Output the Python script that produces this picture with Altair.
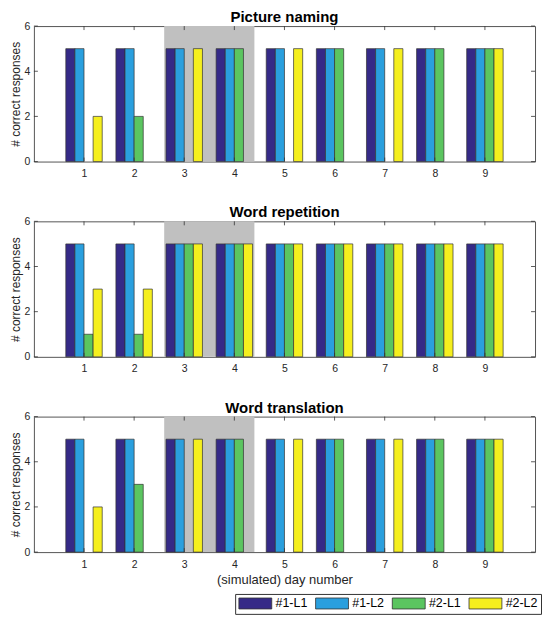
import altair as alt
import pandas as pd

# ---------------- data ----------------
days = [1, 2, 3, 4, 5, 6, 7, 8, 9]
series = ["#1-L1", "#1-L2", "#2-L1", "#2-L2"]
colors = ["#352a87", "#2a9fde", "#5bc560", "#f5ef1e"]
y_ticks = [0, 2, 4, 6]
shade_range = [2.6, 4.4]  # shaded days (3-4)

# Picture naming
pn_1L1 = [5, 5, 5, 5, 5, 5, 5, 5, 5]
pn_1L2 = [5, 5, 5, 5, 5, 5, 5, 5, 5]
pn_2L1 = [0, 2, 0, 5, 0, 5, 0, 5, 5]
pn_2L2 = [2, 0, 5, 0, 5, 0, 5, 0, 5]

# Word repetition
wr_1L1 = [5, 5, 5, 5, 5, 5, 5, 5, 5]
wr_1L2 = [5, 5, 5, 5, 5, 5, 5, 5, 5]
wr_2L1 = [1, 1, 5, 5, 5, 5, 5, 5, 5]
wr_2L2 = [3, 3, 5, 5, 5, 5, 5, 5, 5]

# Word translation
wt_1L1 = [5, 5, 5, 5, 5, 5, 5, 5, 5]
wt_1L2 = [5, 5, 5, 5, 5, 5, 5, 5, 5]
wt_2L1 = [0, 3, 0, 5, 0, 5, 0, 5, 5]
wt_2L2 = [2, 0, 5, 0, 5, 0, 5, 0, 5]

tasks = {
    "Picture naming": [pn_1L1, pn_1L2, pn_2L1, pn_2L2],
    "Word repetition": [wr_1L1, wr_1L2, wr_2L1, wr_2L2],
    "Word translation": [wt_1L1, wt_1L2, wt_2L1, wt_2L2],
}

W, H = 503, 136
GROUP = 0.727
BW = GROUP / 4
FONT = "Liberation Sans"
TXT = "#262626"
EDGE = "#333333"

# wide swatch: 11px tall (size 121 -> r = 5.5), extending to the right
legend_path = "M-1,-1H5V1H-1Z"


def panel(title, vals, show_xtitle):
    rows = []
    for si, s in enumerate(series):
        for d, v in zip(days, vals[si]):
            rows.append({"day": d, "series": s, "idx": si, "value": v})
    df = pd.DataFrame(rows)

    xscale = alt.Scale(domain=[0, 10], nice=False, zero=False)
    yscale = alt.Scale(domain=[0, 6], nice=False)
    xaxis = alt.Axis(
        values=days, ticks=False, domain=False, grid=False,
        labelFontSize=10.5, labelPadding=7, labelColor=TXT,
        title="(simulated) day number" if show_xtitle else None,
        titleFontSize=13, titleFontWeight="normal", titleColor=TXT,
        titlePadding=4,
    )
    yaxis = alt.Axis(
        values=y_ticks, ticks=False, domain=False, grid=False,
        labelFontSize=10.5, labelPadding=4, labelColor=TXT,
        title="# correct responses", titleFontSize=12,
        titleFontWeight="normal", titleColor=TXT, titlePadding=2,
    )

    shade_df = pd.DataFrame({"s0": [shade_range[0]], "s1": [shade_range[1]]})
    shade = alt.Chart(shade_df).mark_rect(color="#c0c0c0").encode(
        x=alt.X("s0:Q", scale=xscale, axis=xaxis),
        x2="s1:Q",
        y=alt.value(0),
        y2=alt.value(H),
    )

    bars = alt.Chart(df).transform_filter(
        alt.datum.value > 0
    ).transform_calculate(
        x0=f"datum.day - {GROUP / 2} + datum.idx * {BW}",
        x1=f"datum.day - {GROUP / 2} + (datum.idx + 1) * {BW}",
    ).mark_rect(stroke=EDGE, strokeWidth=0.7).encode(
        x=alt.X("x0:Q", scale=xscale, axis=xaxis),
        x2="x1:Q",
        y=alt.Y("value:Q", scale=yscale, axis=yaxis),
        y2=alt.datum(0),
        color=alt.Color(
            "series:N",
            scale=alt.Scale(domain=series, range=colors),
            legend=alt.Legend(
                title=None, orient="none", direction="horizontal", columns=4,
                legendX=202, legendY=570,
                symbolType=legend_path, symbolSize=121,
                symbolStrokeColor=EDGE, symbolStrokeWidth=0.8,
                symbolOpacity=1,
                labelFontSize=12.5, labelColor="black", labelOffset=25,
                columnPadding=6, padding=3, strokeColor=EDGE,
                fillColor="white",
            ),
        ),
    )

    tick_df = pd.DataFrame({"day": days})
    xt_bot = alt.Chart(tick_df).mark_rule(color=EDGE, strokeWidth=0.8).encode(
        x=alt.X("day:Q", scale=xscale, axis=xaxis),
        y=alt.value(H), y2=alt.value(H - 4),
    )
    xt_top = alt.Chart(tick_df).mark_rule(color=EDGE, strokeWidth=0.8).encode(
        x=alt.X("day:Q", scale=xscale, axis=xaxis),
        y=alt.value(0), y2=alt.value(4),
    )
    ytick_df = pd.DataFrame({"v": y_ticks})
    yt_left = alt.Chart(ytick_df).mark_rule(color=EDGE, strokeWidth=0.8).encode(
        y=alt.Y("v:Q", scale=yscale, axis=yaxis),
        x=alt.value(0), x2=alt.value(4),
    )
    yt_right = alt.Chart(ytick_df).mark_rule(color=EDGE, strokeWidth=0.8).encode(
        y=alt.Y("v:Q", scale=yscale, axis=yaxis),
        x=alt.value(W), x2=alt.value(W - 4),
    )

    return alt.layer(shade, bars, xt_bot, xt_top, yt_left, yt_right).properties(
        width=W, height=H,
        title=alt.TitleParams(
            title, fontSize=15, fontWeight="bold", font=FONT, color="black",
            offset=-4, anchor="middle",
        ),
    )


names = list(tasks.keys())
chart = alt.vconcat(
    panel(names[0], tasks[names[0]], False),
    panel(names[1], tasks[names[1]], False),
    panel(names[2], tasks[names[2]], True),
    spacing=60,
    bounds="flush",
).properties(
    padding={"top": 0, "left": 0, "right": 0, "bottom": 0},
).configure(
    font=FONT,
    background="white",
).configure_view(
    stroke="#555555", strokeWidth=1,
)

chart.save("out.html", embed_options={"renderer": "svg", "actions": False})
